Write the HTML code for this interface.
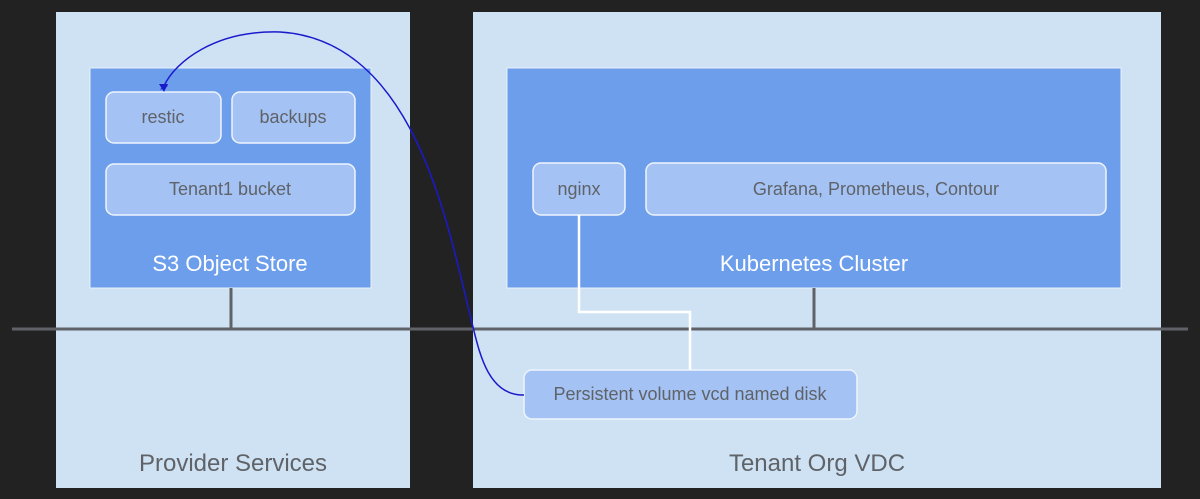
<!DOCTYPE html>
<html><head><meta charset="utf-8"><style>
html,body{margin:0;padding:0;background:#222222;}
svg{display:block;}
text{font-family:"Liberation Sans",Arial,sans-serif;}
</style></head><body>
<svg width="1200" height="499" viewBox="0 0 1200 499" xmlns="http://www.w3.org/2000/svg">
<rect x="0" y="0" width="1200" height="499" fill="#222222"/>
<rect x="56" y="12" width="354" height="476" fill="#cfe2f3"/>
<rect x="473" y="12" width="688" height="476" fill="#cfe2f3"/>
<rect x="90" y="68" width="281" height="220" fill="#6d9eeb" stroke="#e8f0fb" stroke-width="1"/>
<rect x="507" y="68" width="614" height="220" fill="#6d9eeb" stroke="#e8f0fb" stroke-width="1"/>
<g fill="#a4c2f4" stroke="#eef4fd" stroke-width="1.5">
<rect x="106" y="92" width="115" height="51" rx="8"/>
<rect x="232" y="92" width="123" height="51" rx="8"/>
<rect x="106" y="164" width="249" height="51" rx="8"/>
<rect x="533" y="163" width="92" height="52" rx="8"/>
<rect x="646" y="163" width="460" height="52" rx="8"/>
</g>
<g stroke="#5f6368" stroke-width="3" fill="none">
<line x1="12" y1="329" x2="1188" y2="329"/>
<line x1="231" y1="288" x2="231" y2="329"/>
<line x1="814" y1="288" x2="814" y2="329"/>
</g>
<polyline points="579,215 579,312 690,312 690,371" fill="none" stroke="#ffffff" stroke-width="2.5"/>
<rect x="524" y="370" width="333" height="49" rx="8" fill="#a4c2f4" stroke="#eef4fd" stroke-width="1.5"/>
<path d="M524,395 C485,396 478,345 470,315 C445,210 410,40 280,32 C215,30 175,62 164,86" fill="none" stroke="#1a1acc" stroke-width="1.5"/>
<polygon points="160,90 168,86 164,84" fill="#1a1acc"/>
<polygon points="164,92 159,84 168,84" fill="#1a1acc"/>
<g fill="#5f6368" font-size="18" text-anchor="middle">
<text x="163" y="123">restic</text>
<text x="293" y="123">backups</text>
<text x="230" y="195">Tenant1 bucket</text>
<text x="579" y="195">nginx</text>
<text x="876" y="195">Grafana, Prometheus, Contour</text>
<text x="690" y="400">Persistent volume vcd named disk</text>
</g>
<g fill="#ffffff" font-size="22" text-anchor="middle">
<text x="230" y="271">S3 Object Store</text>
<text x="814" y="271">Kubernetes Cluster</text>
</g>
<g fill="#5f6368" font-size="24" text-anchor="middle">
<text x="233" y="471">Provider Services</text>
<text x="817" y="471">Tenant Org VDC</text>
</g>
</svg>
</body></html>
